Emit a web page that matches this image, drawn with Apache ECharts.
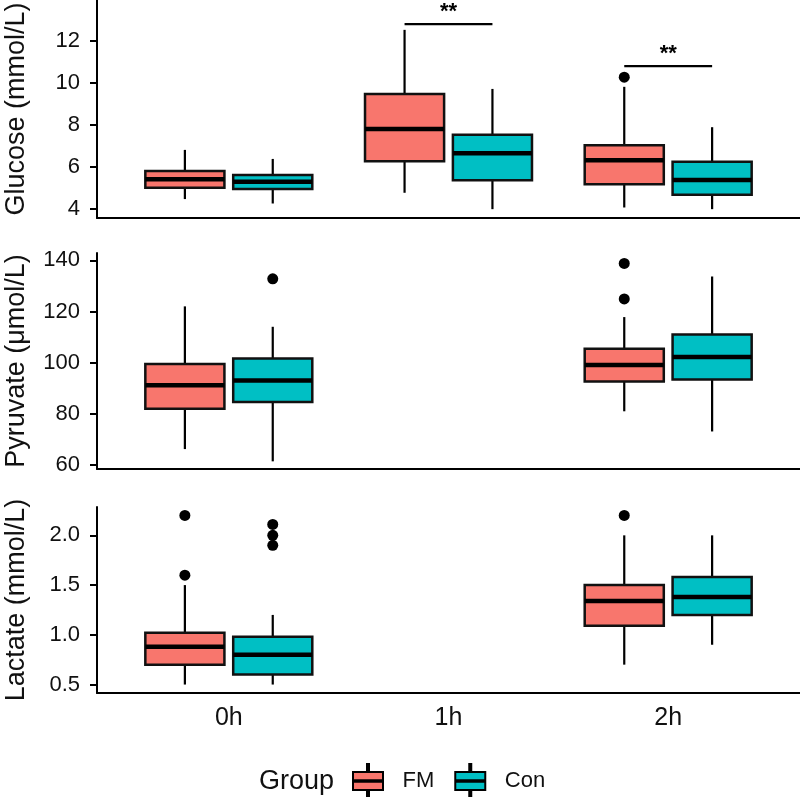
<!DOCTYPE html>
<html>
<head>
<meta charset="utf-8">
<script src="https://cdn.jsdelivr.net/npm/echarts@6/dist/echarts.min.js"></script>
<style>html,body{margin:0;padding:0;background:#fff}#c{width:800px;height:797px}</style>
</head>
<body>
<div id="c"></div>
<script>
// ---- data ----
const categories = ['0h', '1h', '2h'];
const groups = ['FM', 'Con'];
const panelTitles = ['Glucose (mmol/L)', 'Pyruvate (\u03bcmol/L)', 'Lactate (mmol/L)'];
// [lowWhisker, Q1, median, Q3, highWhisker] per category (null = not measured)
const glucoseFM  = [[4.48, 5.02, 5.42, 5.82, 6.82], [4.78, 6.28, 7.81, 9.48, 12.53], [4.08, 5.18, 6.33, 7.04, 9.82]];
const glucoseCon = [[4.27, 4.96, 5.31, 5.63, 6.39], [4.00, 5.37, 6.66, 7.54, 9.72], [4.00, 4.69, 5.39, 6.25, 7.90]];
const pyruvateFM  = [[66.1, 81.9, 91.1, 99.4, 122.0], null, [80.9, 92.6, 99.0, 105.4, 117.8]];
const pyruvateCon = [[61.3, 84.5, 93.0, 101.6, 114.0], null, [73.0, 93.4, 102.2, 111.0, 133.7]];
const lactateFM  = [[0.50, 0.70, 0.88, 1.02, 1.50], null, [0.70, 1.09, 1.34, 1.50, 2.00]];
const lactateCon = [[0.50, 0.60, 0.80, 0.98, 1.20], null, [0.90, 1.20, 1.38, 1.58, 2.00]];
// outliers: [categoryIndex, value]
const glucoseOutFM = [[2, 10.28]];
const glucoseOutCon = [];
const pyruvateOutFM = [[2, 138.8], [2, 124.9]];
const pyruvateOutCon = [[0, 132.8]];
const lactateOutFM = [[0, 2.2], [0, 1.6], [2, 2.2]];
const lactateOutCon = [[0, 2.11], [0, 2.0], [0, 1.9]];
// significance brackets (top panel)
const signifCat = [1, 2];
const signifY = [12.8, 10.8];
const signifLabel = ['**', '**'];
// tick labels
const glucoseTicks = [4, 6, 8, 10, 12];
const pyruvateTicks = [60, 80, 100, 120, 140];
const lactateTicks = [0.5, 1.0, 1.5, 2.0];

// ---- helpers ----
const colors = {FM: '#F8766D', Con: '#00BFC4'};
const dodge = {FM: -0.2, Con: 0.2};
const FONT = '"Liberation Sans", Arial, Helvetica, sans-serif';

function boxData(arr, g) {
  const out = [];
  arr.forEach((s, i) => { if (s) out.push([i + 1 + dodge[g]].concat(s)); });
  return out;
}
function outData(arr, g) { return arr.map(o => [o[0] + 1 + dodge[g], o[1]]); }

function renderBox(params, api) {
  const x = api.value(0);
  const pLo = api.coord([x, api.value(1)]);
  const pQ1 = api.coord([x, api.value(2)]);
  const pMed = api.coord([x, api.value(3)]);
  const pQ3 = api.coord([x, api.value(4)]);
  const pHi = api.coord([x, api.value(5)]);
  const w = api.size([0.36, 0])[0];
  const fill = api.visual('color');
  return {
    type: 'group',
    children: [
      {type: 'line', shape: {x1: pHi[0], y1: pHi[1], x2: pQ3[0], y2: pQ3[1]}, style: {stroke: '#000', lineWidth: 2.2}},
      {type: 'line', shape: {x1: pQ1[0], y1: pQ1[1], x2: pLo[0], y2: pLo[1]}, style: {stroke: '#000', lineWidth: 2.2}},
      {type: 'rect', shape: {x: pQ3[0] - w / 2, y: pQ3[1], width: w, height: pQ1[1] - pQ3[1]}, style: {fill: fill, stroke: '#111', lineWidth: 2.5}},
      {type: 'line', shape: {x1: pMed[0] - w / 2, y1: pMed[1], x2: pMed[0] + w / 2, y2: pMed[1]}, style: {stroke: '#000', lineWidth: 4.5}}
    ]
  };
}

function renderSignif(params, api) {
  const x1 = api.value(0), x2 = api.value(1), y = api.value(2);
  const a = api.coord([x1, y]);
  const b = api.coord([x2, y]);
  return {
    type: 'group',
    children: [
      {type: 'line', shape: {x1: a[0], y1: a[1], x2: b[0], y2: b[1]}, style: {stroke: '#000', lineWidth: 2.2}},
      {type: 'text', x: (a[0] + b[0]) / 2, y: a[1] - 1,
       style: {text: signifLabel[params.dataIndex], fontSize: 22, fontWeight: 'bold', fontFamily: FONT, fill: '#000', align: 'center', verticalAlign: 'bottom'}}
    ]
  };
}

const panels = [
  {fm: glucoseFM, con: glucoseCon, ofm: glucoseOutFM, ocon: glucoseOutCon, ticks: glucoseTicks, min: 3.58, max: 13.95, top: 0, height: 218, fmt: v => String(v)},
  {fm: pyruvateFM, con: pyruvateCon, ofm: pyruvateOutFM, ocon: pyruvateOutCon, ticks: pyruvateTicks, min: 58.3, max: 142.9, top: 253, height: 216, fmt: v => String(v)},
  {fm: lactateFM, con: lactateCon, ofm: lactateOutFM, ocon: lactateOutCon, ticks: lactateTicks, min: 0.415, max: 2.285, top: 507, height: 186, fmt: v => Number(v).toFixed(1)}
];

const grid = [], xAxis = [], yAxis = [], series = [];
panels.forEach((p, i) => {
  grid.push({left: 97, right: 0, top: p.top, height: p.height, containLabel: false, outerBoundsMode: 'none'});
  xAxis.push({
    type: 'value', gridIndex: i, min: 0.4, max: 3.6,
    axisLine: {show: true, onZero: false, lineStyle: {color: '#000', width: 2}},
    axisTick: {show: false},
    splitLine: {show: false},
    axisLabel: i === 2 ? {
      show: true, customValues: [1, 2, 3], formatter: v => categories[Math.round(v) - 1],
      fontSize: 25, color: '#111', fontFamily: FONT, margin: 13
    } : {show: false}
  });
  yAxis.push({
    type: 'value', gridIndex: i, min: p.min, max: p.max,
    name: panelTitles[i], nameLocation: 'middle', nameGap: 67, nameRotate: 90,
    nameTextStyle: {fontSize: 27, color: '#111', fontFamily: FONT},
    axisLine: {show: true, onZero: false, lineStyle: {color: '#000', width: 2}},
    axisTick: {show: true, customValues: p.ticks, length: 7, lineStyle: {color: '#000', width: 2}},
    axisLabel: {show: true, customValues: p.ticks, formatter: p.fmt, fontSize: 22, color: '#111', fontFamily: FONT, margin: 17},
    splitLine: {show: false}
  });
  [['FM', p.fm, p.ofm], ['Con', p.con, p.ocon]].forEach(([g, d, o]) => {
    series.push({
      name: g, type: 'custom', xAxisIndex: i, yAxisIndex: i,
      itemStyle: {color: colors[g], borderColor: '#000', borderWidth: 2},
      renderItem: renderBox, encode: {x: 0, y: [1, 2, 3, 4, 5]},
      data: boxData(d, g), silent: true, animation: false
    });
    if (o.length) series.push({
      name: g + ' outliers', type: 'scatter', xAxisIndex: i, yAxisIndex: i,
      symbolSize: 11, itemStyle: {color: '#000', opacity: 1}, data: outData(o, g), animation: false, silent: true
    });
  });
});
series.push({
  name: 'signif', type: 'custom', xAxisIndex: 0, yAxisIndex: 0,
  renderItem: renderSignif, encode: {x: [0, 1], y: 2},
  data: signifCat.map((c, k) => [c + 1 + dodge.FM, c + 1 + dodge.Con, signifY[k]]),
  animation: false, silent: true
});

const boxIcon = 'path://M0,8L30,8L30,26L0,26Z M14,0L16,0L16,8L14,8Z M14,26L16,26L16,34L14,34Z M0,16.3L30,16.3L30,17.7L0,17.7Z';

const option = {
  backgroundColor: '#fff',
  animation: false,
  title: {text: 'Group', left: 259, top: 768, padding: 0, textStyle: {fontSize: 27, fontWeight: 'normal', color: '#111', fontFamily: FONT}},
  legend: {
    left: 352, top: 763, padding: 0, orient: 'horizontal', itemWidth: 31, itemHeight: 34, itemGap: 20,
    icon: boxIcon,
    selectedMode: false,
    textStyle: {fontSize: 22, color: '#111', fontFamily: FONT, padding: [0, 0, 0, 14]},
    data: groups.map(g => ({name: g, itemStyle: {color: colors[g], borderColor: '#000', borderWidth: 2}}))
  },
  grid, xAxis, yAxis, series
};

const chart = echarts.init(document.getElementById('c'), null, {renderer: 'canvas'});
chart.setOption(option);
</script>
</body>
</html>
